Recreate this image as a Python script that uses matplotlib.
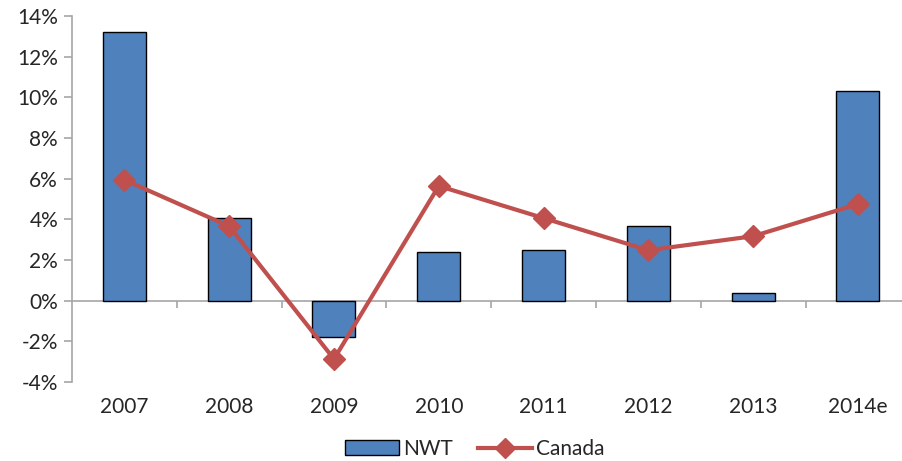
import numpy as np
import matplotlib.pyplot as plt
from matplotlib.ticker import FuncFormatter, MultipleLocator
from matplotlib.lines import Line2D
from matplotlib.patches import Patch

plt.rcParams['font.family'] = ['Lato', 'DejaVu Sans']

# annual growth, percent
years = ["2007", "2008", "2009", "2010", "2011", "2012", "2013", "2014e"]
nwt = [13.2, 4.06, -1.78, 2.38, 2.48, 3.66, 0.40, 10.3]
canada = [5.94, 3.66, -2.87, 5.64, 4.06, 2.48, 3.17, 4.75]

BLUE = "#4F81BD"
RED = "#C0504D"
GRAY = "#A6A6A6"
TEXT = "#262626"

fig = plt.figure(figsize=(9.03, 4.61), dpi=100)
ax = fig.add_axes([72 / 903, 79 / 461, 1 - 72 / 903, 366 / 461])

x = np.arange(len(years))
ax.bar(x, nwt, width=0.41, color=BLUE, edgecolor="black", linewidth=1.0,
       zorder=2, label="NWT")
ax.plot(x, canada, color=RED, linewidth=3, marker="D", markersize=11,
        zorder=3, label="Canada")

ax.set_xlim(-0.5, len(years) - 0.57)
ax.set_ylim(-4, 14)
ax.yaxis.set_major_locator(MultipleLocator(2))
ax.yaxis.set_major_formatter(FuncFormatter(lambda v, _: f"{v:.0f}%"))

# zero line with category separator ticks
ax.axhline(0, color=GRAY, linewidth=1.2, zorder=1)
ax.vlines(x[:-1] + 0.5, -0.38, 0, color=GRAY, linewidth=1.2, zorder=1)

for side in ("top", "right", "bottom"):
    ax.spines[side].set_visible(False)
ax.spines["left"].set_color(GRAY)
ax.spines["left"].set_linewidth(1.2)

ax.set_xticks(x)
ax.set_xticklabels(years)
ax.tick_params(axis="x", length=0, pad=11, labelsize=15, labelcolor=TEXT)
ax.tick_params(axis="y", length=6, width=1.2, color=GRAY, pad=4,
               labelsize=15, labelcolor=TEXT)

handles = [
    Patch(facecolor=BLUE, edgecolor="black", linewidth=1.0),
    Line2D([0], [0], color=RED, linewidth=3, marker="D", markersize=10),
]
fig.legend(handles, ["NWT", "Canada"], loc="center", ncol=2,
           bbox_to_anchor=(475 / 903, 1 - 449 / 461), frameon=False,
           fontsize=15, handlelength=2.6, handletextpad=0.2, columnspacing=1.2,
           labelcolor=TEXT)

fig.savefig("out.png", dpi=100)
